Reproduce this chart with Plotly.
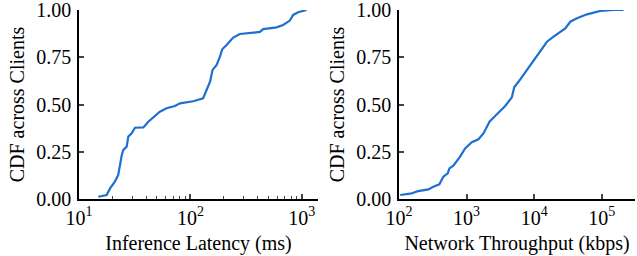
import plotly.graph_objects as go

latency_ms = [14.9, 17.7, 19.0, 21.0, 22.5, 23.3, 24.2, 25.0, 26.8, 27.7, 29.7, 31.8, 37.8, 41.9,
              46.5, 53.2, 61.1, 72.6, 80.5, 106, 130, 140, 150, 158, 172, 184, 193, 211, 242,
              278, 366, 420, 450, 593, 679, 780, 836, 927, 1102]
latency_cdf = [0.012, 0.021, 0.056, 0.092, 0.127, 0.18, 0.233, 0.26, 0.277, 0.33, 0.347, 0.377,
               0.379, 0.409, 0.432, 0.462, 0.480, 0.492, 0.506, 0.517, 0.533, 0.577, 0.621,
               0.683, 0.709, 0.753, 0.792, 0.815, 0.854, 0.873, 0.882, 0.884, 0.899, 0.908,
               0.921, 0.944, 0.974, 0.988, 1.0]

throughput_kbps = [104, 154, 193, 272, 322, 395, 453, 526, 556, 637, 800, 951, 1191, 1496, 1774,
                   2178, 2642, 3715, 4667, 5058, 6209, 7780, 9772, 12274, 15417, 19320, 24266,
                   28774, 34119, 42855, 60256, 94842, 149624, 208930]
throughput_cdf = [0.021, 0.030, 0.042, 0.051, 0.065, 0.078, 0.118, 0.136, 0.162, 0.176, 0.224,
                  0.268, 0.300, 0.316, 0.347, 0.409, 0.439, 0.492, 0.538, 0.591, 0.633, 0.683,
                  0.735, 0.779, 0.832, 0.859, 0.882, 0.903, 0.938, 0.956, 0.977, 0.995, 1.0, 1.0]

y_ticks = [0, 0.25, 0.5, 0.75, 1.0]
y_text = ["0.00", "0.25", "0.50", "0.75", "1.00"]
x1_ticks = [10, 100, 1000]
x1_text = ["10<sup>1</sup>", "10<sup>2</sup>", "10<sup>3</sup>"]
x1_minor = [20, 30, 40, 50, 60, 70, 80, 90, 200, 300, 400, 500, 600, 700, 800, 900]
x2_ticks = [100, 1000, 10000, 100000]
x2_text = ["10<sup>2</sup>", "10<sup>3</sup>", "10<sup>4</sup>", "10<sup>5</sup>"]

line_color = "#1f6fd2"
font = dict(family="Liberation Serif", size=20, color="black")

fig = go.Figure()
fig.add_trace(go.Scatter(x=latency_ms, y=latency_cdf, mode="lines",
                         line=dict(color=line_color, width=2.2), xaxis="x", yaxis="y"))
fig.add_trace(go.Scatter(x=throughput_kbps, y=throughput_cdf, mode="lines",
                         line=dict(color=line_color, width=2.2), xaxis="x2", yaxis="y2"))

ydom = [57 / 256, 246 / 256]
common_y = dict(range=[0, 1.0], tickvals=y_ticks, ticktext=y_text, ticks="inside", ticklen=5,
                tickwidth=1.5, showline=True, linecolor="black", linewidth=1.5,
                showgrid=False, zeroline=False, automargin=False, ticklabelstandoff=2,
                ticklabeloverflow="allow",
                title=dict(text="CDF across Clients", standoff=6, font=font),
                domain=ydom, tickfont=font)
common_x = dict(type="log", ticks="inside", ticklen=5, tickwidth=1.5, showline=True,
                linecolor="black", linewidth=1.5, showgrid=False, zeroline=False,
                automargin=False, tickfont=font, ticklabeloverflow="allow")

fig.update_layout(
    width=637, height=256, margin=dict(l=0, r=0, t=0, b=0, autoexpand=False),
    paper_bgcolor="white", plot_bgcolor="white", showlegend=False, font=font,
    xaxis=dict(common_x, domain=[79 / 637, 318 / 637], range=[1, 3.145],
               tickvals=x1_ticks, ticktext=x1_text,
               minor=dict(ticks="inside", ticklen=3, tickwidth=1, tickvals=x1_minor,
                          showgrid=False),
               anchor="y", title=dict(text="Inference Latency (ms)", standoff=8, font=font)),
    yaxis=dict(common_y, anchor="x"),
    xaxis2=dict(common_x, domain=[399 / 637, 635 / 637], range=[2, 5.49],
                tickvals=x2_ticks, ticktext=x2_text,
                anchor="y2", title=dict(text="Network Throughput (kbps)", standoff=8, font=font)),
    yaxis2=dict(common_y, anchor="x2"),
)

fig.write_html("out.html", config={"displayModeBar": False},
               post_script="document.body.style.margin='0';document.body.style.overflow='hidden';")
